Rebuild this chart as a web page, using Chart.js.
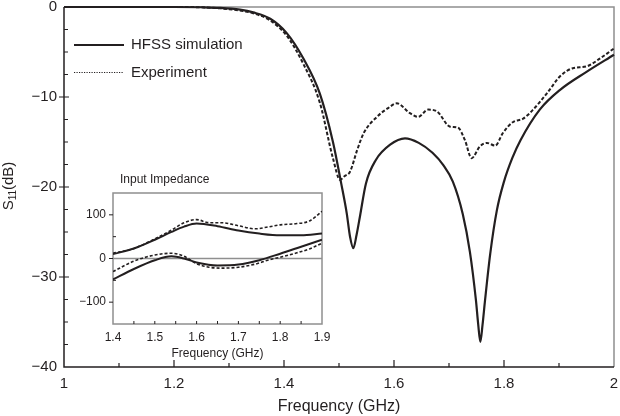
<!DOCTYPE html>
<html>
<head>
<meta charset="utf-8">
<script src="https://cdn.jsdelivr.net/npm/chart.js@4.4.1/dist/chart.umd.min.js"></script>
<style>
  body { margin: 0; background: #fff; }
  #wrap { position: relative; width: 620px; height: 416px; }
  #main { position: absolute; left: 0; top: 0; }
  #inset { position: absolute; left: 80px; top: 168px; }
</style>
</head>
<body>
<div id="wrap">
  <canvas id="main" width="620" height="416"></canvas>
  <canvas id="inset" width="250" height="197"></canvas>
</div>
<script>
// S11 vs frequency
var simFreq = [1.0, 1.1, 1.2, 1.25, 1.284, 1.32, 1.344, 1.375, 1.405, 1.435, 1.465, 1.489, 1.504, 1.514, 1.520, 1.526, 1.532, 1.538, 1.549, 1.567, 1.593, 1.62, 1.645, 1.67, 1.69, 1.707, 1.725, 1.738, 1.749, 1.753, 1.757, 1.761, 1.7655, 1.775, 1.787, 1.80, 1.815, 1.83, 1.865, 1.902, 1.95, 2.0];
var simS11 = [0, 0, 0, -0.03, -0.1, -0.3, -0.6, -1.3, -2.9, -5.7, -9.6, -15, -19.6, -22.9, -25.5, -26.8, -25.3, -23.3, -19.6, -17, -15.3, -14.6, -15.1, -16.2, -17.6, -19.4, -23.0, -27.2, -32.6, -35.2, -37.2, -35.3, -32.6, -27.4, -22.6, -19.4, -16.8, -14.8, -11.4, -9.2, -7.2, -5.3];

var expFreq = [1.0, 1.1, 1.2, 1.25, 1.284, 1.32, 1.344, 1.375, 1.405, 1.435, 1.465, 1.489, 1.502, 1.51, 1.52, 1.533, 1.545, 1.569, 1.59, 1.605, 1.629, 1.644, 1.662, 1.678, 1.702, 1.716, 1.729, 1.741, 1.756, 1.769, 1.784, 1.798, 1.816, 1.835, 1.853, 1.878, 1.902, 1.925, 1.95, 1.975, 2.0];
var expS11 = [0, 0, 0, -0.03, -0.15, -0.4, -0.7, -1.5, -3.2, -6.3, -10.6, -16.8, -19.2, -18.8, -18.3, -15.9, -14, -12.2, -11.2, -10.7, -11.8, -12.2, -11.4, -11.6, -13.3, -13.4, -14.8, -16.8, -15.5, -15.1, -15.4, -14.0, -12.8, -12.4, -11.4, -9.6, -7.7, -6.8, -6.6, -5.7, -4.6];

var xTickVals = [1, 1.2, 1.4, 1.6, 1.8, 2];
var yTickVals = [0, -10, -20, -30, -40];

// inset: input impedance (ohm)
var zSimFreq = [1.4, 1.45, 1.5, 1.54, 1.57, 1.6, 1.65, 1.7, 1.75, 1.8, 1.85, 1.9];
var zSimRe = [10, 23, 43, 61, 73, 80, 74, 64, 57, 53, 53, 57];
var zSimIm = [-48, -24, -4, 5, 0, -9, -16, -14, -4, 11, 27, 43];

var zExpFreq = [1.4, 1.45, 1.5, 1.54, 1.57, 1.6, 1.63, 1.66, 1.7, 1.74, 1.77, 1.8, 1.84, 1.87, 1.9];
var zExpRe = [12, 23, 45, 65, 82, 89, 82, 82, 75, 68, 72, 77, 80, 86, 108];
var zExpIm = [-30, -6, 8, 12, 5, -12, -20, -22, -20, -13, -4, 3, 13, 22, 35];

var zTickX = [1.4, 1.5, 1.6, 1.7, 1.8, 1.9];
var zTickY = [-100, 0, 100];

var font = "'Liberation Sans', Arial, sans-serif";
var ink = '#231f20';
var frameGray = '#8f8f8f';

Chart.defaults.font.family = font;
Chart.defaults.color = ink;

function pts(xs, ys) {
  return xs.map(function(x, i) { return {x: x, y: ys[i]}; });
}
function minus(v) {
  return v < 0 ? '\u2212' + Math.abs(v) : '' + v;
}
// keep the plot box where it is: no extra room for end labels
function fixX(h) {
  return function(s) { s.height = h; s.paddingLeft = 0; s.paddingRight = 0; };
}
function fixY(w) {
  return function(s) { s.width = w; s.paddingTop = 0; s.paddingBottom = 0; };
}

var mainDecor = {
  id: 'mainDecor',
  beforeDatasetsDraw: function(chart) {
    var ctx = chart.ctx, a = chart.chartArea;
    ctx.save();
    ctx.lineWidth = 1.5;
    ctx.strokeStyle = frameGray;
    ctx.beginPath();
    ctx.moveTo(a.left, a.top); ctx.lineTo(a.right, a.top); ctx.lineTo(a.right, a.bottom);
    ctx.stroke();
    ctx.strokeStyle = ink;
    ctx.beginPath();
    ctx.moveTo(a.left, a.top); ctx.lineTo(a.left, a.bottom); ctx.lineTo(a.right, a.bottom);
    ctx.stroke();
    ctx.restore();
  },
  afterDraw: function(chart) {
    var ctx = chart.ctx, a = chart.chartArea;
    var xs = chart.scales.x, ys = chart.scales.y;
    ctx.save();
    ctx.strokeStyle = ink;
    ctx.lineWidth = 1.2;
    ctx.beginPath();
    // x ticks, inward
    for (var f = 1.1; f < 2.0; f += 0.1) {
      var px = xs.getPixelForValue(f);
      var major = Math.abs(Math.round(f * 10) % 2) === 0;
      ctx.moveTo(px, a.bottom);
      ctx.lineTo(px, a.bottom - (major ? 7 : 4));
    }
    // y ticks
    for (var v = -37.5; v < 0; v += 2.5) {
      var py = ys.getPixelForValue(v);
      if (v % 10 === 0) {
        ctx.moveTo(a.left - 5, py); ctx.lineTo(a.left + 5, py);
      } else {
        ctx.moveTo(a.left, py); ctx.lineTo(a.left + 4, py);
      }
    }
    ctx.stroke();

    // legend
    var lx = a.left + 10, ly1 = 45, ly2 = 72.5;
    ctx.lineWidth = 2.2;
    ctx.beginPath(); ctx.moveTo(lx, ly1); ctx.lineTo(lx + 50, ly1); ctx.stroke();
    ctx.lineWidth = 1;
    ctx.setLineDash([1.2, 1.3]);
    ctx.beginPath(); ctx.moveTo(lx, ly2); ctx.lineTo(lx + 50, ly2); ctx.stroke();
    ctx.setLineDash([]);
    ctx.fillStyle = ink;
    ctx.font = '15px ' + font;
    ctx.textBaseline = 'middle';
    ctx.textAlign = 'left';
    ctx.fillText('HFSS simulation', lx + 57, ly1);
    ctx.fillText('Experiment', lx + 57, ly2);

    // y title with subscript
    ctx.translate(9, 186);
    ctx.rotate(-Math.PI / 2);
    var s = 'S', sub = '11', rest = '(dB)';
    ctx.font = '15px ' + font;
    var w1 = ctx.measureText(s).width, w3 = ctx.measureText(rest).width;
    ctx.font = '10px ' + font;
    var w2 = ctx.measureText(sub).width;
    var x0 = -(w1 + w2 + w3) / 2;
    ctx.font = '15px ' + font;
    ctx.fillText(s, x0, 0);
    ctx.font = '10px ' + font;
    ctx.fillText(sub, x0 + w1, 4);
    ctx.font = '15px ' + font;
    ctx.fillText(rest, x0 + w1 + w2, 0);
    ctx.restore();
  }
};

new Chart(document.getElementById('main'), {
  type: 'line',
  data: {
    datasets: [{
      label: 'HFSS simulation',
      data: pts(simFreq, simS11),
      borderColor: ink,
      borderWidth: 2.2,
      cubicInterpolationMode: 'monotone',
      clip: 4
    }, {
      label: 'Experiment',
      data: pts(expFreq, expS11),
      borderColor: ink,
      borderWidth: 2,
      borderDash: [3.5, 2],
      cubicInterpolationMode: 'monotone',
      clip: 4
    }]
  },
  options: {
    responsive: false,
    animation: false,
    devicePixelRatio: 1,
    layout: { padding: { left: 0, right: 6, top: 7, bottom: 0 } },
    plugins: { legend: { display: false }, tooltip: { enabled: false } },
    elements: { point: { radius: 0 } },
    scales: {
      x: {
        type: 'linear', min: 1, max: 2,
        afterBuildTicks: function(s) { s.ticks = xTickVals.map(function(v) { return {value: v}; }); },
        afterFit: fixX(49),
        grid: { display: false, drawTicks: false },
        border: { display: false },
        ticks: {
          padding: 8, autoSkip: false, maxRotation: 0,
          font: { size: 15 },
          callback: function(v) { return '' + (+v.toFixed(1)); }
        },
        title: { display: true, text: 'Frequency (GHz)', font: { size: 16 }, padding: 0 }
      },
      y: {
        type: 'linear', min: -40, max: 0,
        afterBuildTicks: function(s) { s.ticks = yTickVals.map(function(v) { return {value: v}; }); },
        afterFit: fixY(64),
        grid: { display: false, drawTicks: false },
        border: { display: false },
        ticks: { padding: 7, font: { size: 15 }, callback: minus }
      }
    }
  },
  plugins: [mainDecor]
});

var insetDecor = {
  id: 'insetDecor',
  beforeDatasetsDraw: function(chart) {
    var ctx = chart.ctx, a = chart.chartArea;
    var xs = chart.scales.x, ys = chart.scales.y;
    ctx.save();
    ctx.fillStyle = '#fff';
    ctx.fillRect(a.left, a.top, a.right - a.left, a.bottom - a.top);
    ctx.strokeStyle = frameGray;
    ctx.lineWidth = 1.5;
    ctx.strokeRect(a.left, a.top, a.right - a.left, a.bottom - a.top);
    var y0 = ys.getPixelForValue(0);
    ctx.beginPath(); ctx.moveTo(a.left, y0); ctx.lineTo(a.right, y0); ctx.stroke();
    ctx.strokeStyle = ink;
    ctx.lineWidth = 1;
    ctx.beginPath();
    for (var f = 1.45; f < 1.9; f += 0.05) {
      var px = xs.getPixelForValue(f);
      ctx.moveTo(px, a.bottom); ctx.lineTo(px, a.bottom - 3);
    }
    for (var v = -100; v <= 100; v += 50) {
      var py = ys.getPixelForValue(v);
      if (v % 100 === 0) { ctx.moveTo(a.left - 4, py); ctx.lineTo(a.left, py); }
      else { ctx.moveTo(a.left, py); ctx.lineTo(a.left + 3, py); }
    }
    ctx.stroke();
    ctx.fillStyle = ink;
    ctx.font = '12px ' + font;
    ctx.textBaseline = 'middle';
    ctx.fillText('Input Impedance', a.left + 7, a.top - 13);
    ctx.restore();
  }
};

function zLine(xs, ys, dashed) {
  return {
    data: pts(xs, ys),
    borderColor: ink,
    borderWidth: dashed ? 1.6 : 2,
    borderDash: dashed ? [3, 2] : [],
    cubicInterpolationMode: 'monotone'
  };
}

new Chart(document.getElementById('inset'), {
  type: 'line',
  data: {
    datasets: [
      zLine(zSimFreq, zSimRe, false),
      zLine(zSimFreq, zSimIm, false),
      zLine(zExpFreq, zExpRe, true),
      zLine(zExpFreq, zExpIm, true)
    ]
  },
  options: {
    responsive: false,
    animation: false,
    devicePixelRatio: 1,
    layout: { padding: { left: 0, right: 8, top: 25, bottom: 0 } },
    plugins: { legend: { display: false }, tooltip: { enabled: false } },
    elements: { point: { radius: 0 } },
    scales: {
      x: {
        type: 'linear', min: 1.4, max: 1.9,
        afterBuildTicks: function(s) { s.ticks = zTickX.map(function(v) { return {value: v}; }); },
        afterFit: fixX(41),
        grid: { display: false, drawTicks: false },
        border: { display: false },
        ticks: { padding: 6, autoSkip: false, maxRotation: 0, font: { size: 12 },
                 callback: function(v) { return v.toFixed(1); } },
        title: { display: true, text: 'Frequency (GHz)', font: { size: 12 }, padding: { top: 0, bottom: 4 } }
      },
      y: {
        type: 'linear', min: -150, max: 150,
        afterBuildTicks: function(s) { s.ticks = zTickY.map(function(v) { return {value: v}; }); },
        afterFit: fixY(33),
        grid: { display: false, drawTicks: false },
        border: { display: false },
        ticks: { padding: 7, font: { size: 12 }, callback: minus }
      }
    }
  },
  plugins: [insetDecor]
});
</script>
</body>
</html>
